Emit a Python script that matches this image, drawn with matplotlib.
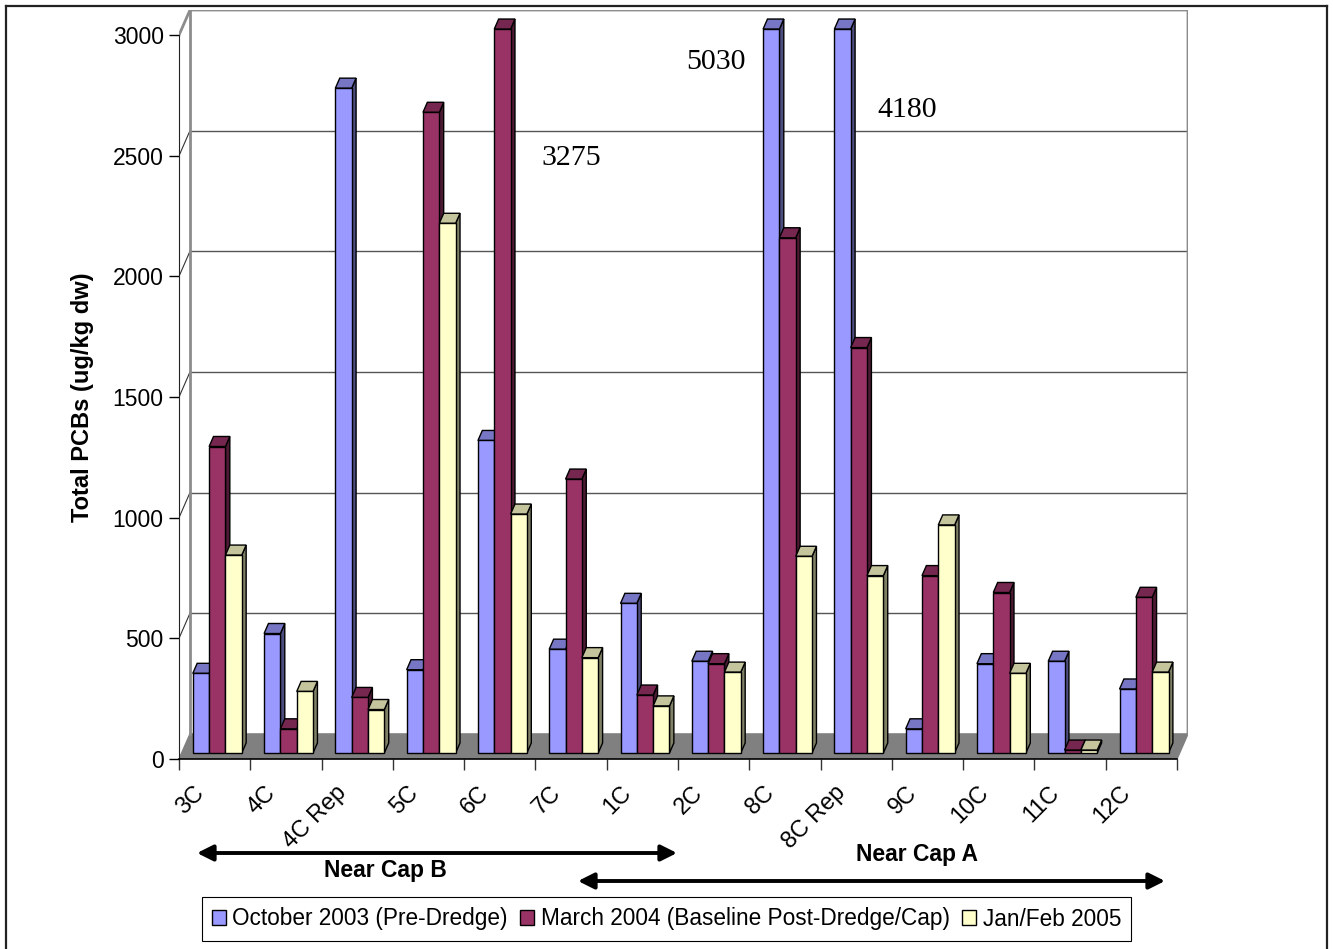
import numpy as np
import matplotlib.pyplot as plt
from matplotlib.colors import to_rgb
from matplotlib.patches import Polygon, Patch
from matplotlib.lines import Line2D

plt.rcParams['font.family'] = ['Liberation Sans', 'DejaVu Sans']

# Total PCBs per station, three sampling events
stations = ['3C', '4C', '4C Rep', '5C', '6C', '7C', '1C', '2C', '8C', '8C Rep', '9C', '10C', '11C', '12C']
oct_2003 = [330, 495, 2755, 345, 1295, 430, 620, 380, 5030, 4180, 100, 370, 380, 265]
mar_2004 = [1270, 100, 230, 2655, 3275, 1135, 240, 370, 2135, 1680, 735, 665, 12, 645]
janfeb_2005 = [820, 255, 180, 2195, 990, 395, 195, 335, 815, 735, 945, 330, 12, 335]
series_names = ['October 2003 (Pre-Dredge)', 'March 2004 (Baseline Post-Dredge/Cap)', 'Jan/Feb 2005']
colors = ['#9999ff', '#993366', '#ffffcc']
yticks = [0, 500, 1000, 1500, 2000, 2500, 3000]
ymax = 3000

W, H = 1333, 949
fig = plt.figure(figsize=(W / 100, H / 100), dpi=100)
ax = fig.add_axes([179 / W, (H - 759) / H, 1009 / W, 749 / H])

n = len(stations)
# oblique depth of the floor, in data units
DX = 0.154
DY = 104.0
ax.set_xlim(0, n + DX)
ax.set_ylim(0, ymax + DY)

# walls and floor
ax.add_patch(Polygon([(0, 0), (n, 0), (n + DX, DY), (DX, DY)], closed=True,
                     facecolor='#808080', edgecolor='#808080', lw=1, zorder=1))
for v in yticks[1:-1]:
    ax.plot([DX, n + DX], [v + DY, v + DY], color='#555555', lw=1, zorder=1)
    ax.plot([0, DX], [v, v + DY], color='#333333', lw=0.8, zorder=1)
ax.plot([0, DX, n + DX, n + DX], [ymax, ymax + DY, ymax + DY, DY], color='#8c8c8c', lw=2, zorder=1)
ax.plot([DX, DX], [DY, ymax + DY], color='#8c8c8c', lw=2, zorder=1)

# bars: front, top and right side faces
f0, f1 = 0.24, 0.64
bw = 0.229
series = [oct_2003, mar_2004, janfeb_2005]
z = 2
for i in range(n):
    left = i + 0.5 - 1.5 * bw + f0 * DX
    for k, vals in enumerate(series):
        h = min(vals[i], ymax)
        x0 = left + k * bw
        x1 = x0 + bw
        b = f0 * DY
        ddx, ddy = (f1 - f0) * DX, (f1 - f0) * DY
        c = np.array(to_rgb(colors[k]))
        side = Polygon([(x1, b), (x1 + ddx, b + ddy), (x1 + ddx, b + h + ddy), (x1, b + h)],
                       facecolor=c * 0.5, edgecolor='black', lw=1.0, zorder=z)
        top = Polygon([(x0, b + h), (x1, b + h), (x1 + ddx, b + h + ddy), (x0 + ddx, b + h + ddy)],
                      facecolor=c * 0.77, edgecolor='black', lw=1.0, zorder=z)
        front = Polygon([(x0, b), (x1, b), (x1, b + h), (x0, b + h)],
                        facecolor=c, edgecolor='black', lw=1.0, zorder=z)
        for p in (side, top, front):
            ax.add_patch(p)
        z += 1

# values beyond the axis maximum
over = [(4, 1, 0.97, 2490), (8, 0, -0.78, 2888), (9, 0, 0.91, 2690)]
for i, k, off, ytxt in over:
    xc = i + 0.5 - 1.5 * bw + f0 * DX + (k + 0.5) * bw
    ax.text(xc + off, ytxt, str(series[k][i]), family='Liberation Serif', fontsize=21.5,
            ha='center', va='center', zorder=100)

# axes
for s in ['top', 'right']:
    ax.spines[s].set_visible(False)
ax.spines['left'].set_bounds(0, ymax)
ax.spines['bottom'].set_bounds(0, n)
ax.spines['left'].set_color('#222222')
ax.spines['bottom'].set_color('black')
ax.spines['bottom'].set_linewidth(1.2)
ax.set_yticks(yticks)
ax.set_yticklabels([str(v) for v in yticks], fontsize=16.5)
ax.tick_params(axis='y', direction='out', length=7, width=1, pad=4)
ax.set_xticks(np.arange(n + 1))
ax.set_xticklabels([])
ax.tick_params(axis='x', direction='out', length=8, width=1, color='#333333')
for i, s in enumerate(stations):
    ax.text(i + 0.5 - 0.2, -125, s, rotation=45, rotation_mode='anchor',
            ha='right', va='center', fontsize=16.8, clip_on=False)

fig.text(82 / W, 1 - 397 / H, 'Total PCBs (ug/kg dw)', rotation=90, fontsize=17,
         fontweight='bold', ha='center', va='center')

# station groups
arrow = dict(arrowstyle='<|-|>', color='black', lw=2.8, mutation_scale=24, shrinkA=0, shrinkB=0)
ax.annotate('', xy=(197, H - 853), xytext=(677, H - 853), xycoords='figure pixels',
            textcoords='figure pixels', arrowprops=arrow, annotation_clip=False)
ax.annotate('', xy=(578, H - 881), xytext=(1165, H - 881), xycoords='figure pixels',
            textcoords='figure pixels', arrowprops=arrow, annotation_clip=False)
fig.text(385 / W, 1 - 870 / H, 'Near Cap B', fontsize=16.5, fontweight='bold', ha='center', va='center')
fig.text(917 / W, 1 - 855 / H, 'Near Cap A', fontsize=16.5, fontweight='bold', ha='center', va='center')

handles = [Patch(facecolor=c, edgecolor='black', lw=1) for c in colors]
leg = fig.legend(handles, series_names, ncol=3, loc='center',
                 bbox_to_anchor=(666.5 / W, 1 - 919 / H), fontsize=16.3,
                 frameon=True, fancybox=False, edgecolor='black', framealpha=1,
                 handlelength=0.6, handleheight=0.6, handletextpad=0.3,
                 columnspacing=0.55, borderpad=0.45, borderaxespad=0)
leg.get_frame().set_linewidth(0.8)

# outer frame
for xs, ys in [([6, 6], [0, H - 6]), ([6, 1327], [H - 6, H - 6]), ([1327, 1327], [0, H - 6])]:
    fig.add_artist(Line2D([x / W for x in xs], [y / H for y in ys], color='#222222', lw=1.6,
                          transform=fig.transFigure))

fig.savefig('out.png', dpi=100)
